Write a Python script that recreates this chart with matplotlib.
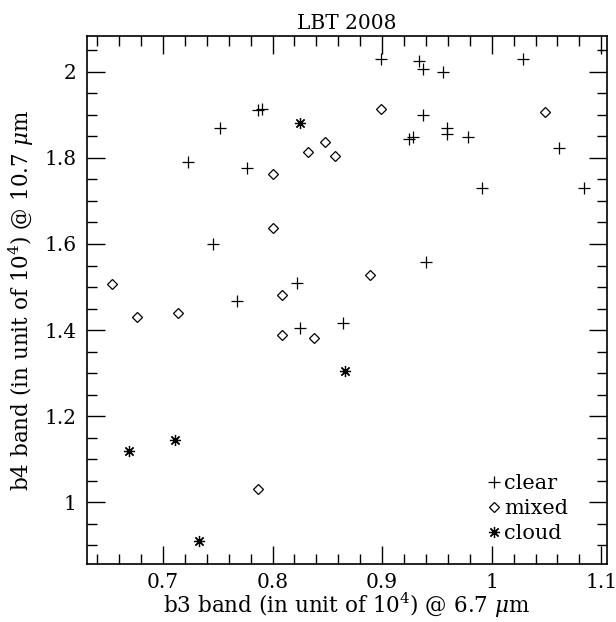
import numpy as np
import matplotlib
matplotlib.use('Agg')
import matplotlib.pyplot as plt
from matplotlib.ticker import MultipleLocator

plt.rcParams['font.family'] = 'DejaVu Serif'
plt.rcParams['mathtext.fontset'] = 'dejavuserif'
plt.rcParams['font.size'] = 15

# b3 / b4 band values (units of 1e4)
clear_x = [0.787, 0.790, 0.752, 0.723, 0.777, 0.746, 0.822, 0.768, 0.825, 0.864,
           0.899, 0.934, 0.937, 0.956, 1.029, 0.937, 0.959, 0.959, 0.925, 0.928,
           0.978, 1.061, 0.991, 1.084, 0.940]
clear_y = [1.911, 1.913, 1.869, 1.791, 1.776, 1.599, 1.510, 1.468, 1.406, 1.417,
           2.029, 2.025, 2.006, 1.999, 2.029, 1.900, 1.869, 1.855, 1.844, 1.849,
           1.849, 1.824, 1.731, 1.731, 1.559]

mixed_x = [0.848, 0.832, 0.857, 0.800, 0.800, 0.654, 0.809, 0.899, 1.049, 0.889,
           0.676, 0.714, 0.809, 0.838, 0.787]
mixed_y = [1.836, 1.813, 1.804, 1.762, 1.638, 1.506, 1.481, 1.913, 1.907, 1.529,
           1.430, 1.439, 1.389, 1.381, 1.030]

cloud_x = [0.825, 0.866, 0.669, 0.711, 0.733]
cloud_y = [1.880, 1.305, 1.119, 1.145, 0.911]

fig = plt.figure(figsize=(6.16, 6.22), dpi=100)
ax = fig.add_axes([0.1417, 0.0928, 0.8433, 0.8492])

ax.plot(clear_x, clear_y, ls='none', marker='+', ms=8.5, mew=0.9, color='black', label='clear')
ax.plot(mixed_x, mixed_y, ls='none', marker='D', ms=5.5, mew=0.9, mfc='none', color='black', label='mixed')
ax.plot(cloud_x, cloud_y, ls='none', marker=(8, 2, 0), ms=8, mew=0.9, color='black', label='cloud')

ax.set_xlim(0.631, 1.105)
ax.set_ylim(0.856, 2.083)
ax.xaxis.set_minor_locator(MultipleLocator(0.02))
ax.yaxis.set_minor_locator(MultipleLocator(0.05))
ax.set_xticks([0.7, 0.8, 0.9, 1.0, 1.1])
ax.set_xticklabels(['0.7', '0.8', '0.9', '1', '1.1'])
ax.set_yticks([1.0, 1.2, 1.4, 1.6, 1.8, 2.0])
ax.set_yticklabels(['1', '1.2', '1.4', '1.6', '1.8', '2'])
ax.tick_params(which='both', direction='in', top=True, right=True, width=1, labelsize=14.5)
ax.tick_params(which='major', length=13, pad=8)
ax.tick_params(axis='x', which='major', pad=6)
ax.tick_params(which='minor', length=7)
for s in ax.spines.values():
    s.set_linewidth(1.2)

ax.set_xlabel(r'b3 band (in unit of 10$^4$) @ 6.7 $\mu$m', fontsize=15.5, labelpad=-1)
ax.set_ylabel(r'b4 band (in unit of 10$^4$) @ 10.7 $\mu$m', fontsize=15.5, labelpad=6)
ax.set_title('LBT 2008', fontsize=14.5, pad=5)

ax.legend(loc='lower right', bbox_to_anchor=(0.965, 0.0), frameon=False,
          handlelength=0.5, handletextpad=0.2, labelspacing=0.3,
          borderaxespad=0.6, fontsize=15)

fig.savefig('out.png', dpi=100)
